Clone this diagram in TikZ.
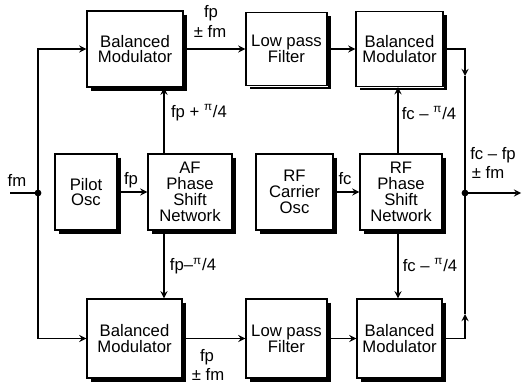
\documentclass[tikz,border=0pt]{standalone}
\usepackage{fontspec}
\setmainfont{Liberation Sans}
\usetikzlibrary{calc}
\begin{document}
\begin{tikzpicture}[x=0.02cm, y=-0.02cm, font=\fontsize{9.5}{9}\selectfont]
        \tikzstyle{blk} = [draw, thick, fill=white, rectangle, align=center, inner sep=1pt]
        \tikzstyle{lbl} = [inner sep=0pt, align=center]
        \useasboundingbox (0,0) rectangle (526,382);
        % top row
        \node[blk, minimum width=1.92cm, minimum height=1.52cm] (bmA) at (135,49) {Balanced\\Modulator};
        \node[blk, minimum width=1.62cm, minimum height=1.46cm] (lpfA) at (286.5,49) {Low pass\\Filter};
        \node[blk, minimum width=1.74cm, minimum height=1.5cm] (bmB) at (399.5,49) {Balanced\\Modulator};
        % middle row
        \node[blk, minimum width=1.24cm, minimum height=1.52cm] (pilot) at (86,192) {Pilot\\Osc};
        \node[blk, minimum width=1.68cm, minimum height=1.52cm] (afps) at (190,192) {AF\\Phase\\Shift\\Network};
        \node[blk, minimum width=1.54cm, minimum height=1.52cm] (rfosc) at (294.5,192) {RF\\Carrier\\Osc};
        \node[blk, minimum width=1.64cm, minimum height=1.52cm] (rfps) at (401,192) {RF\\Phase\\Shift\\Network};
        % bottom row
        \node[blk, minimum width=1.9cm, minimum height=1.58cm] (bmC) at (134.5,338.5) {Balanced\\Modulator};
        \node[blk, minimum width=1.62cm, minimum height=1.58cm] (lpfC) at (286.5,338.5) {Low pass\\Filter};
        \node[blk, minimum width=1.7cm, minimum height=1.58cm] (bmD) at (399.5,338.5) {Balanced\\Modulator};
        % heavy right and bottom edges
        \foreach \bx in {bmA,lpfA,bmB,pilot,afps,rfosc,rfps,bmC,lpfC,bmD}
          \draw[line width=1.6pt] ($(\bx.north east)+(1pt,-2.5pt)$) -- ($(\bx.south east)+(1pt,-1pt)$) -- ($(\bx.south west)+(2.5pt,-1pt)$);
        % junctions and free ends
        \coordinate (src) at (10,193);
        \coordinate (jin) at (38,193);
        \coordinate (jout) at (465,193);
        \coordinate (dst) at (521,193);
        \coordinate (mA) at (465,76);
        \coordinate (mC) at (465,314);
        \coordinate (xaf) at (164,0);
        \coordinate (xrf) at (398,0);
        \fill (jin) circle (3.4);
        \fill (jout) circle (3.4);
        % connectors
        \draw[thick] (src) -- (jin);
        \draw[->, >=stealth, thick] (jin) |- (bmA.west);
        \draw[->, >=stealth, thick] (jin) |- (bmC.west);
        \draw[->, >=stealth, thick] (bmA.east) -- (lpfA.west);
        \draw[->, >=stealth, thick] (lpfA.east) -- (bmB.west);
        \draw[->, >=stealth, thick] (bmC.east) -- (lpfC.west);
        \draw[->, >=stealth, thick] (lpfC.east) -- (bmD.west);
        \draw[->, >=stealth, thick] (pilot.east) -- (afps.west);
        \draw[->, >=stealth, thick] (rfosc.east) -- (rfps.west);
        \draw[->, >=stealth, thick] (afps.north -| xaf) -- (bmA.south -| xaf);
        \draw[->, >=stealth, thick] (afps.south -| xaf) -- (bmC.north -| xaf);
        \draw[->, >=stealth, thick] (rfps.north -| xrf) -- (bmB.south -| xrf);
        \draw[->, >=stealth, thick] (rfps.south -| xrf) -- (bmD.north -| xrf);
        \draw[->, >=stealth, thick] (bmB.east) -| (mA);
        \draw[thick] (mA) -- (jout);
        \draw[->, >=stealth, thick] (bmD.east) -| (mC);
        \draw[thick] (mC) -- (jout);
        \draw[->, >=stealth, thick] (jout) -- (dst);
        % labels
        \node[lbl] (fm) at (17,180) {fm};
        \node[lbl] (fp) at (131,180) {fp};
        \node[lbl] (fc) at (345,179) {fc};
        \node[lbl] (fpA) at (211,13) {fp};
        \node[lbl] (fmA) at (210,31) {± fm};
        \node[lbl] (fpC) at (207,357) {fp};
        \node[lbl] (fmC) at (208,374) {± fm};
        \node[lbl] (phA) at (199,113) {fp + \textsuperscript{π}/4};
        \node[lbl] (phC) at (193,266) {fp–\textsuperscript{π}/4};
        \node[lbl] (phB) at (429,113) {fc – \textsuperscript{π}/4};
        \node[lbl] (phD) at (430,265) {fc – \textsuperscript{π}/4};
        \node[lbl] (outA) at (493,155) {fc – fp};
        \node[lbl] (outB) at (488,172) {± fm};
\end{tikzpicture}
\end{document}
